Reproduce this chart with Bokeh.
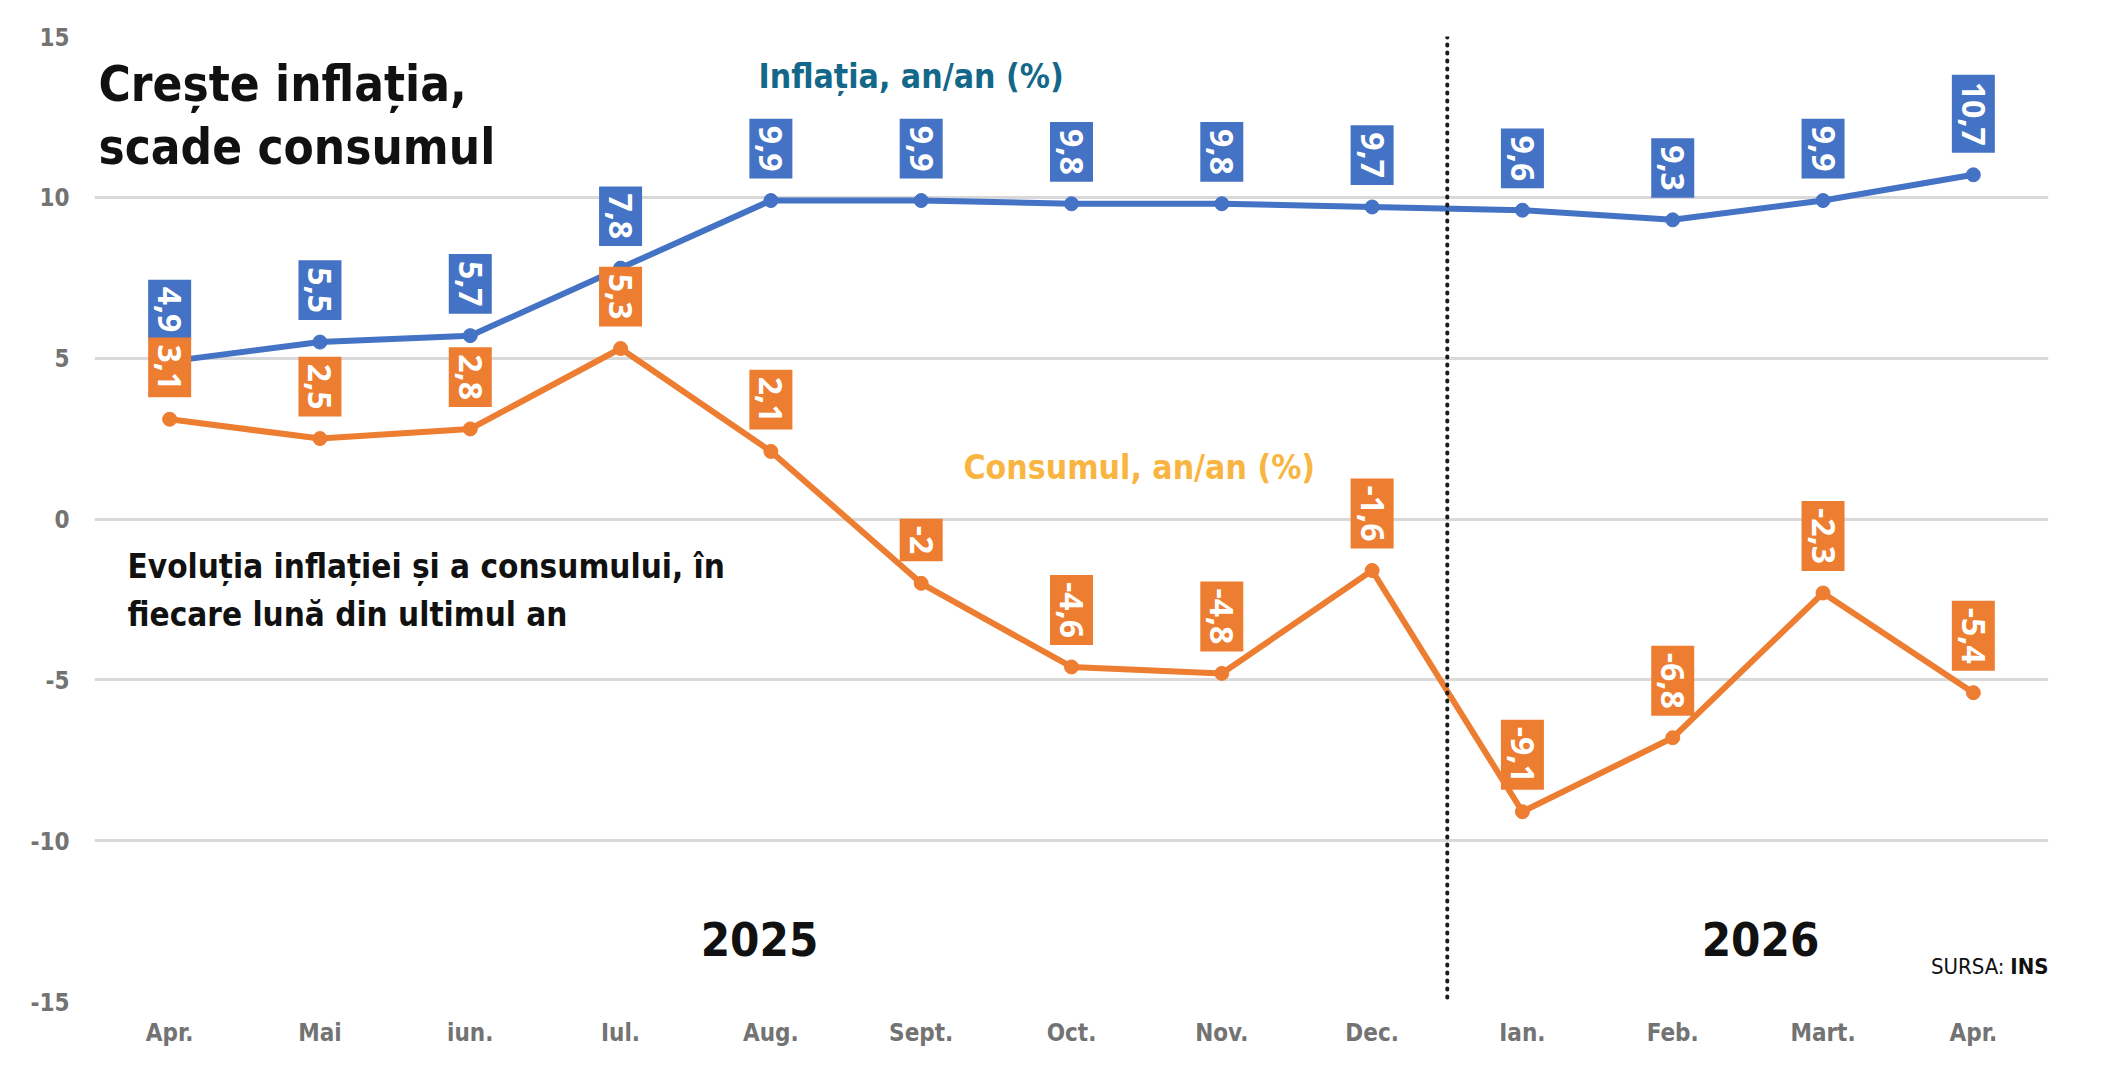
import math
from bokeh.plotting import figure
from bokeh.models import Range1d, FixedTicker, Span, Label, ColumnDataSource
from bokeh.core.properties import value
from bokeh.embed import file_html
from bokeh.resources import INLINE

# ---- data ----
months = ["Apr.", "Mai", "iun.", "Iul.", "Aug.", "Sept.", "Oct.", "Nov.", "Dec.",
          "Ian.", "Feb.", "Mart.", "Apr."]
year_names = ["2025", "2026"]
inflatia = [4.9, 5.5, 5.7, 7.8, 9.9, 9.9, 9.8, 9.8, 9.7, 9.6, 9.3, 9.9, 10.7]
consumul = [3.1, 2.5, 2.8, 5.3, 2.1, -2, -4.6, -4.8, -1.6, -9.1, -6.8, -2.3, -5.4]
y_ticks = [-15, -10, -5, 0, 5, 10, 15]

# ---- layout ----
W, H = 2101, 1079
FL, FR, FT, FB = 94, 2048, 36, 1001
N = len(months)
YMIN, YMAX = -15, 15

def sx(px):
    return -0.5 + (px - FL) / (FR - FL) * N

def sy(py):
    return YMAX - (py - FT) / (FB - FT) * (YMAX - YMIN)

BLUE = "#4472C4"
ORANGE = "#ED7D31"
GRAY = "#737373"
COND = "DejaVu Sans Condensed, sans-serif"

def fmt(v):
    return ("%g" % v).replace(".", ",")

idx = list(range(N))
src_i = ColumnDataSource(dict(x=idx, y=inflatia, t=[fmt(v) for v in inflatia]))
src_c = ColumnDataSource(dict(x=idx, y=consumul, t=[fmt(v) for v in consumul]))

p = figure(width=W, height=H, x_range=Range1d(-0.5, N - 0.5), y_range=Range1d(YMIN, YMAX),
           output_backend="svg", toolbar_location=None,
           min_border_left=FL, min_border_right=W - FR, min_border_top=FT,
           min_border_bottom=H - FB)
p.outline_line_color = None
p.background_fill_color = "white"
p.border_fill_color = "white"

p.xgrid.grid_line_color = None
p.ygrid.grid_line_color = "#d9d9d9"
p.ygrid.grid_line_width = 3
p.ygrid.ticker = FixedTicker(ticks=y_ticks)

p.xaxis.ticker = FixedTicker(ticks=idx)
p.xaxis.major_label_overrides = {i: m for i, m in enumerate(months)}
p.yaxis.ticker = FixedTicker(ticks=y_ticks)
p.yaxis.major_label_overrides = {t: str(t) for t in y_ticks}
for ax in (p.xaxis, p.yaxis):
    ax.axis_line_color = None
    ax.major_tick_line_color = None
    ax.minor_tick_line_color = None
    ax.major_label_text_color = GRAY
    ax.major_label_text_font = COND
    ax.major_label_text_font_style = "bold"
    ax.major_label_text_font_size = "24px"
p.xaxis.major_label_standoff = 11
p.yaxis.major_label_standoff = 19

# year divider
p.add_layout(Span(location=8.5, dimension="height", line_color="#1a1a1a",
                  line_width=4, line_dash="1 7", line_cap="round"))

PAD_ALONG = 7
PAD_ACROSS = 10
GAP = 15

def labels(src, color):
    p.text(x="x", y="y", text="t", source=src, angle=-math.pi / 2,
           text_align="right", text_baseline="middle", y_offset=-(GAP + PAD_ALONG),
           text_color="white", text_font=value("Open Sans"), text_font_style="bold",
           text_font_size="32px", background_fill_color=color,
           padding=dict(left=PAD_ALONG, right=PAD_ALONG, top=PAD_ACROSS, bottom=PAD_ACROSS))

# inflation series
p.line(x="x", y="y", source=src_i, line_color=BLUE, line_width=6)
p.scatter(x="x", y="y", source=src_i, size=14, color=BLUE)
labels(src_i, BLUE)
# consumption series
labels(src_c, ORANGE)
p.line(x="x", y="y", source=src_c, line_color=ORANGE, line_width=6)
p.scatter(x="x", y="y", source=src_c, size=14, color=ORANGE)

def lab(text, px, py, size, color="#111111", style="bold", align="left",
        baseline="middle", font=COND):
    p.add_layout(Label(x=sx(px), y=sy(py), text=text, text_font=font,
                       text_font_size=size, text_font_style=style, text_color=color,
                       text_align=align, text_baseline=baseline))

# titles and notes
lab("Crește inflația,", 98, 84, "49px")
lab("scade consumul", 98, 147, "49px")
lab("Inflația, an/an (%)", 758, 76, "33.5px", color="#13688A")
lab("Consumul, an/an (%)", 963, 467, "33.5px", color="#F9B541")
lab("Evoluția inflației și a consumului, în", 127, 566, "33px")
lab("fiecare lună din ultimul an", 127, 614, "33px")

# year labels
lab(year_names[0], 759, 938, "47px", align="center")
lab(year_names[1], 1760, 938, "47px", align="center")

lab("INS", 2048, 966, "22px", align="right")
lab("SURSA:", 2004, 966, "22px", style="normal", align="right")

open("out.html", "w").write(file_html(p, INLINE))
